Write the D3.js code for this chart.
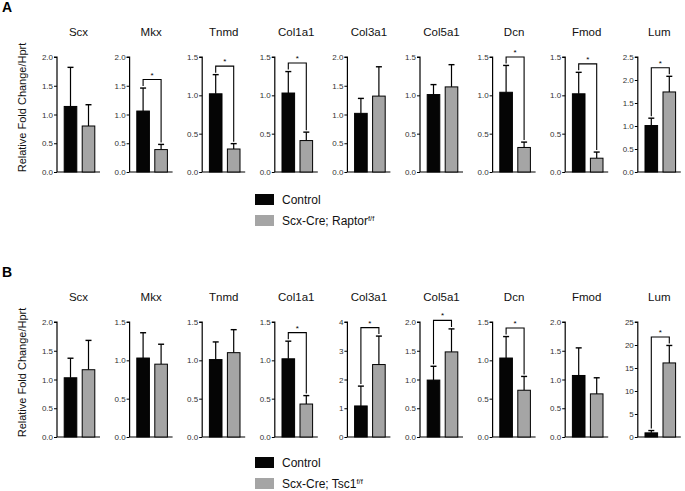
<!DOCTYPE html>
<html><head><meta charset="utf-8">
<script src="https://cdn.jsdelivr.net/npm/d3@7"></script>
<style>body{margin:0;background:#fff}svg{display:block;font-family:"Liberation Sans",Arial,sans-serif}</style>
</head><body><svg id="c" width="685" height="491"></svg>
<script>
const genes = ['Scx','Mkx','Tnmd','Col1a1','Col3a1','Col5a1','Dcn','Fmod','Lum'];
const groups = ['Control','Mutant'];

// Panel A (Scx-Cre; Raptor f/f)
const ctrlA    = [1.14,1.06,1.02,1.03,1.02,1.01,1.04,1.02,1.01];
const ctrlErrA = [0.68,0.40,0.25,0.28,0.26,0.13,0.35,0.28,0.16];
const mutA     = [0.80,0.39,0.30,0.41,1.32,1.11,0.32,0.18,1.74];
const mutErrA  = [0.37,0.09,0.07,0.11,0.51,0.29,0.07,0.08,0.34];
const yMaxA    = [2,2,1.5,1.5,2,1.5,1.5,1.5,2.5];
const stepA    = [0.5,0.5,0.5,0.5,0.5,0.5,0.5,0.5,0.5];
const sigA     = [0,1,1,1,0,0,1,1,1];

// Panel B (Scx-Cre; Tsc1 f/f)
const ctrlB    = [1.03,1.03,1.01,1.02,1.08,0.99,1.03,1.07,0.9];
const ctrlErrB = [0.34,0.33,0.23,0.23,0.69,0.24,0.28,0.48,0.5];
const mutB     = [1.17,0.95,1.10,0.43,2.52,1.48,0.61,0.75,16.1];
const mutErrB  = [0.51,0.26,0.30,0.11,0.99,0.40,0.18,0.28,3.8];
const yMaxB    = [2,1.5,1.5,1.5,4,2,1.5,2,25];
const stepB    = [0.5,0.5,0.5,0.5,1,0.5,0.5,0.5,5];
const sigB     = [0,0,0,1,1,1,1,0,1];

const legendA = ['Control','Scx-Cre; Raptor','f/f'];
const legendB = ['Control','Scx-Cre; Tsc1','f/f'];
const yLabel = 'Relative Fold Change/Hprt';

const colors = d3.scaleOrdinal().domain(groups).range(['#050505','#a5a5a5']);
const svg = d3.select('#c');

const panelX = d3.scaleBand().domain(genes).range([57, 57 + 72.6*9]).paddingInner(0).paddingOuter(0);
const barX = d3.scaleBand().domain(groups).range([0,45]).paddingInner(0.3).paddingOuter(0.4);
const H = 115, W = 43;

function drawPanel(top, label, ctrl, ctrlErr, mut, mutErr, yMax, step, sig, legend, legendTop){
  const g = svg.append('g');
  g.append('text').attr('x',2).attr('y',top-45).attr('font-weight','bold').attr('font-size',14).text(label);
  g.append('text').attr('transform',`translate(26,${top+H/2-7}) rotate(-90)`).attr('text-anchor','middle')
    .attr('font-size',11).attr('fill','#111').text(yLabel);
  genes.forEach((gene,i)=>{
    const p = g.append('g').attr('transform',`translate(${panelX(gene)},${top})`);
    const y = d3.scaleLinear().domain([0,yMax[i]]).range([H,0]);
    const ticks = d3.range(0, yMax[i]+step[i]/2, step[i]);
    const fmt = step[i] >= 1 ? d3.format('d') : d3.format('.1f');
    const ax = p.append('g').call(d3.axisLeft(y).tickValues(ticks).tickFormat(fmt).tickSize(3).tickPadding(1));
    ax.select('.domain').attr('stroke','#000').attr('stroke-width',1.2).attr('d',`M-3,0H0V${H}`);
    ax.selectAll('.tick line').attr('stroke','#000');
    ax.selectAll('.tick text').attr('font-size',8).attr('fill','#333').attr('font-family','"Liberation Sans",Arial,sans-serif');
    p.append('line').attr('x1',0).attr('x2',W).attr('y1',H).attr('y2',H).attr('stroke','#000').attr('stroke-width',1.2);
    p.append('text').attr('x',W/2).attr('y',-21).attr('text-anchor','middle').attr('font-size',11.5).attr('fill','#111').text(gene);
    const vals = [{k:'Control',v:ctrl[i],e:ctrlErr[i]},{k:'Mutant',v:mut[i],e:mutErr[i]}];
    vals.forEach(d=>{
      const cx = barX(d.k)+barX.bandwidth()/2;
      p.append('line').attr('x1',cx).attr('x2',cx).attr('y1',y(d.v)).attr('y2',y(d.v+d.e)).attr('stroke','#000').attr('stroke-width',1.2);
      p.append('line').attr('x1',cx-3).attr('x2',cx+3).attr('y1',y(d.v+d.e)).attr('y2',y(d.v+d.e)).attr('stroke','#000').attr('stroke-width',1.4);
      p.append('rect').attr('x',barX(d.k)).attr('y',y(d.v)).attr('width',barX.bandwidth()).attr('height',H-y(d.v))
        .attr('fill',colors(d.k)).attr('stroke','#000').attr('stroke-width',1);
    });
    if(sig[i]){
      const tops = vals.map(d=>y(d.v+d.e));
      const by = Math.min(...tops) - 8.5;
      const x1 = barX('Control')+barX.bandwidth()/2, x2 = barX('Mutant')+barX.bandwidth()/2;
      p.append('path').attr('d',`M${x1},${tops[0]-2}V${by}H${x2}V${tops[1]-2}`).attr('fill','none').attr('stroke','#000').attr('stroke-width',1.1);
      p.append('text').attr('x',(x1+x2)/2).attr('y',by-2).attr('text-anchor','middle').attr('font-size',8).text('*');
    }
  });
  // legend
  const lg = g.append('g').attr('transform',`translate(255,${legendTop})`);
  groups.forEach((k,j)=>{
    lg.append('rect').attr('x',0).attr('y',j*21).attr('width',19).attr('height',11).attr('fill',colors(k));
    const t = lg.append('text').attr('x',27).attr('y',j*21+10).attr('font-size',12).attr('fill','#111');
    if(j===0) t.text(legend[0]);
    else { t.append('tspan').text(legend[1]); t.append('tspan').attr('font-size',7.5).attr('dy',-4).text(legend[2]); }
  });
}
drawPanel(57,'A',ctrlA,ctrlErrA,mutA,mutErrA,yMaxA,stepA,sigA,legendA,194);
drawPanel(322,'B',ctrlB,ctrlErrB,mutB,mutErrB,yMaxB,stepB,sigB,legendB,457);
</script></body></html>
